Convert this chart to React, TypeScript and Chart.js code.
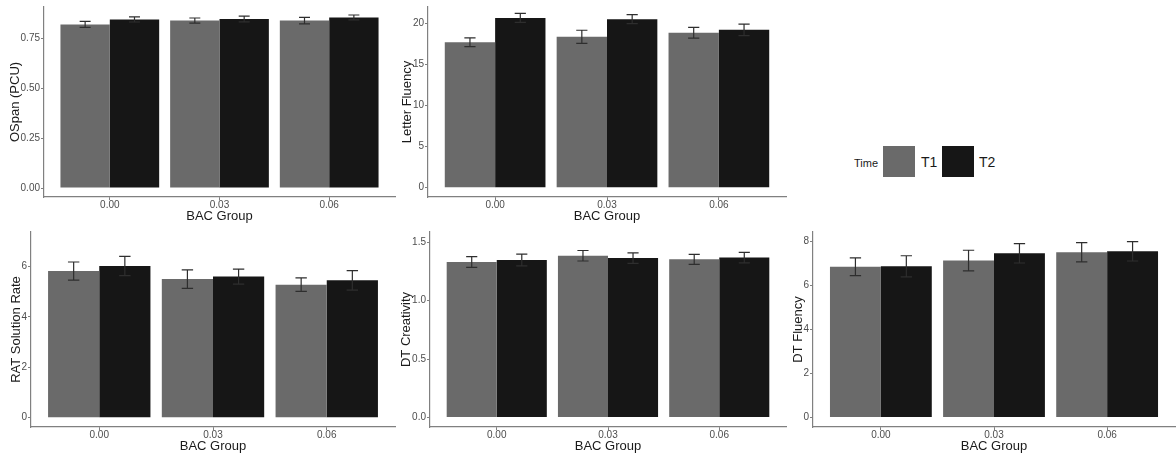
import React, { useEffect, useRef } from 'react';
import { Chart, registerables } from 'chart.js';

Chart.register(...registerables);

// ---------- data ----------
const categories = ['0.00', '0.03', '0.06'];
const timeLabels = ['T1', 'T2'];
const xTitle = 'BAC Group';
const legendTitle = 'Time';

const ospanT1 = [0.818, 0.837, 0.837];
const ospanT1Err = [0.015, 0.013, 0.016];
const ospanT2 = [0.843, 0.845, 0.853];
const ospanT2Err = [0.013, 0.014, 0.012];
const ospanTicks = [0, 0.25, 0.5, 0.75];

const letterT1 = [17.7, 18.35, 18.85];
const letterT1Err = [0.53, 0.8, 0.65];
const letterT2 = [20.65, 20.5, 19.2];
const letterT2Err = [0.55, 0.55, 0.7];
const letterTicks = [0, 5, 10, 15, 20];

const ratT1 = [5.82, 5.5, 5.28];
const ratT1Err = [0.36, 0.37, 0.27];
const ratT2 = [6.02, 5.6, 5.45];
const ratT2Err = [0.38, 0.3, 0.39];
const ratTicks = [0, 2, 4, 6];

const dtcT1 = [1.33, 1.383, 1.352];
const dtcT1Err = [0.046, 0.045, 0.042];
const dtcT2 = [1.347, 1.363, 1.367];
const dtcT2Err = [0.05, 0.045, 0.045];
const dtcTicks = [0, 0.5, 1.0, 1.5];

const dtfT1 = [6.86, 7.14, 7.52];
const dtfT1Err = [0.4, 0.47, 0.44];
const dtfT2 = [6.88, 7.47, 7.56];
const dtfT2Err = [0.48, 0.44, 0.44];
const dtfTicks = [0, 2, 4, 6, 8];

// ---------- styles ----------
const FONT = "'Liberation Sans', Arial, sans-serif";
const T1_COLOR = '#6a6a6a';
const T2_COLOR = '#161616';
const AXIS_COLOR = '#808080';
const TICK_TEXT = '#4d4d4d';
const TITLE_TEXT = '#1a1a1a';
const ERR_COLOR = '#2e2e2e';
const TITLE_SIZE = 13;
const TICK_SIZE = 10;

type Box = { left: number; top: number; width: number; height: number };
type Area = { left: number; right: number; top: number; bottom: number };
type PanelSpec = {
  yTitle: string;
  t1: number[]; t1Err: number[]; t2: number[]; t2Err: number[];
  yTicks: number[]; decimals: number; yMin: number; yMax: number;
  box: Box; area: Area; yTitleX: number; xTitlePad: number;
};

const panels: PanelSpec[] = [
  {
    yTitle: 'OSpan (PCU)', t1: ospanT1, t1Err: ospanT1Err, t2: ospanT2, t2Err: ospanT2Err,
    yTicks: ospanTicks, decimals: 2, yMin: -0.045, yMax: 0.905,
    box: { left: 0, top: 0, width: 400, height: 225 },
    area: { left: 44, right: 395, top: 7, bottom: 197 }, yTitleX: 15, xTitlePad: 2,
  },
  {
    yTitle: 'Letter Fluency', t1: letterT1, t1Err: letterT1Err, t2: letterT2, t2Err: letterT2Err,
    yTicks: letterTicks, decimals: 0, yMin: -1.13, yMax: 21.98,
    box: { left: 385, top: 0, width: 405, height: 225 },
    area: { left: 428, right: 786, top: 7, bottom: 197 }, yTitleX: 407, xTitlePad: 2,
  },
  {
    yTitle: 'RAT Solution Rate', t1: ratT1, t1Err: ratT1Err, t2: ratT2, t2Err: ratT2Err,
    yTicks: ratTicks, decimals: 0, yMin: -0.37, yMax: 7.37,
    box: { left: 0, top: 225, width: 400, height: 229 },
    area: { left: 31, right: 395, top: 228, bottom: 427 }, yTitleX: 16, xTitlePad: 1,
  },
  {
    yTitle: 'DT Creativity', t1: dtcT1, t1Err: dtcT1Err, t2: dtcT2, t2Err: dtcT2Err,
    yTicks: dtcTicks, decimals: 1, yMin: -0.081, yMax: 1.586,
    box: { left: 390, top: 225, width: 400, height: 229 },
    area: { left: 430, right: 786, top: 227, bottom: 427 }, yTitleX: 406, xTitlePad: 1,
  },
  {
    yTitle: 'DT Fluency', t1: dtfT1, t1Err: dtfT1Err, t2: dtfT2, t2Err: dtfT2Err,
    yTicks: dtfTicks, decimals: 0, yMin: -0.43, yMax: 8.44,
    box: { left: 780, top: 225, width: 396, height: 229 },
    area: { left: 813, right: 1175, top: 227, bottom: 427 }, yTitleX: 798, xTitlePad: 1,
  },
];

const CAP_UNITS = 0.1;

const errorBarPlugin = {
  id: 'errorBars',
  afterDatasetsDraw(chart: any) {
    const { ctx, scales } = chart;
    const x = scales.x;
    const y = scales.y;
    const capHalf = Math.abs(x.getPixelForValue(1 + CAP_UNITS / 2) - x.getPixelForValue(1));
    chart.data.datasets.forEach((ds: any, i: number) => {
      const meta = chart.getDatasetMeta(i);
      meta.data.forEach((bar: any, j: number) => {
        const v = ds.data[j].y;
        const e = ds.errors[j];
        const yt = y.getPixelForValue(v + e);
        const yb = y.getPixelForValue(v - e);
        ctx.save();
        ctx.strokeStyle = ERR_COLOR;
        ctx.lineWidth = 1.2;
        ctx.beginPath();
        ctx.moveTo(bar.x, yt);
        ctx.lineTo(bar.x, yb);
        ctx.moveTo(bar.x - capHalf, yt);
        ctx.lineTo(bar.x + capHalf, yt);
        ctx.moveTo(bar.x - capHalf, yb);
        ctx.lineTo(bar.x + capHalf, yb);
        ctx.stroke();
        ctx.restore();
      });
    });
  },
};

function makeChart(canvas: HTMLCanvasElement, p: PanelSpec) {
  const toPoints = (arr: number[]) => arr.map((v, i) => ({ x: i + 1, y: v }));
  const gridOpts = {
    display: true, drawOnChartArea: false, drawTicks: true, tickLength: 3,
    color: AXIS_COLOR, lineWidth: 1, offset: false,
  };
  const borderOpts = { display: true, color: AXIS_COLOR, width: 1.2 };
  return new Chart(canvas, {
    type: 'bar',
    data: {
      datasets: [
        {
          label: timeLabels[0], data: toPoints(p.t1), errors: p.t1Err,
          backgroundColor: T1_COLOR, borderWidth: 0,
          categoryPercentage: 0.9, barPercentage: 1.0,
        } as any,
        {
          label: timeLabels[1], data: toPoints(p.t2), errors: p.t2Err,
          backgroundColor: T2_COLOR, borderWidth: 0,
          categoryPercentage: 0.9, barPercentage: 1.0,
        } as any,
      ],
    },
    options: {
      responsive: false,
      animation: false,
      devicePixelRatio: 1,
      layout: {
        padding: {
          left: 0,
          top: p.area.top - p.box.top,
          right: p.box.left + p.box.width - p.area.right,
          bottom: 0,
        },
      },
      plugins: { legend: { display: false }, tooltip: { enabled: false } },
      scales: {
        x: {
          type: 'linear', min: 0.4, max: 3.6, offset: false,
          afterBuildTicks: (s: any) => { s.ticks = categories.map((_, i) => ({ value: i + 1 })); },
          afterFit: (s: any) => { s.height = p.box.top + p.box.height - p.area.bottom; },
          ticks: {
            callback: (v: any) => categories[Math.round(Number(v)) - 1] ?? '',
            autoSkip: false, maxRotation: 0, minRotation: 0,
            font: { family: FONT, size: TICK_SIZE }, color: TICK_TEXT, padding: -1,
          },
          grid: gridOpts,
          border: borderOpts,
          title: {
            display: true, text: xTitle, color: TITLE_TEXT,
            font: { family: FONT, size: TITLE_SIZE, lineHeight: 1 },
            padding: { top: 0, bottom: p.xTitlePad },
          },
        },
        y: {
          min: p.yMin, max: p.yMax,
          afterBuildTicks: (s: any) => { s.ticks = p.yTicks.map((v) => ({ value: v })); },
          afterFit: (s: any) => { s.width = p.area.left - p.box.left; },
          ticks: {
            callback: (v: any) => Number(v).toFixed(p.decimals),
            font: { family: FONT, size: TICK_SIZE }, color: TICK_TEXT, padding: 1,
          },
          grid: gridOpts,
          border: borderOpts,
          title: {
            display: true, text: p.yTitle, color: TITLE_TEXT,
            font: { family: FONT, size: TITLE_SIZE, lineHeight: 1 },
            padding: { top: p.yTitleX - p.box.left - TITLE_SIZE / 2, bottom: 0 },
          },
        },
      },
    } as any,
    plugins: [errorBarPlugin],
  });
}

export default function App() {
  const refs = useRef<(HTMLCanvasElement | null)[]>([]);

  useEffect(() => {
    const charts = panels.map((p, i) => makeChart(refs.current[i] as HTMLCanvasElement, p));
    return () => charts.forEach((c) => c.destroy());
  }, []);

  return (
    <div
      style={{
        position: 'fixed', left: 0, top: 0, width: 1176, height: 454,
        overflow: 'hidden', background: '#ffffff', fontFamily: FONT,
      }}
    >
      {panels.map((p, i) => (
        <canvas
          key={i}
          ref={(el) => { refs.current[i] = el; }}
          width={p.box.width}
          height={p.box.height}
          style={{
            position: 'absolute', left: p.box.left, top: p.box.top,
            width: p.box.width, height: p.box.height,
          }}
        />
      ))}
      <div style={{ position: 'absolute', left: 854, top: 156, fontSize: 11, color: TITLE_TEXT, lineHeight: '14px' }}>
        {legendTitle}
      </div>
      <div style={{ position: 'absolute', left: 883, top: 146, width: 32, height: 31, background: T1_COLOR }} />
      <div style={{ position: 'absolute', left: 921, top: 153, fontSize: 14, color: TITLE_TEXT, lineHeight: '18px' }}>
        {timeLabels[0]}
      </div>
      <div style={{ position: 'absolute', left: 942, top: 146, width: 32, height: 31, background: T2_COLOR }} />
      <div style={{ position: 'absolute', left: 979, top: 153, fontSize: 14, color: TITLE_TEXT, lineHeight: '18px' }}>
        {timeLabels[1]}
      </div>
    </div>
  );
}
